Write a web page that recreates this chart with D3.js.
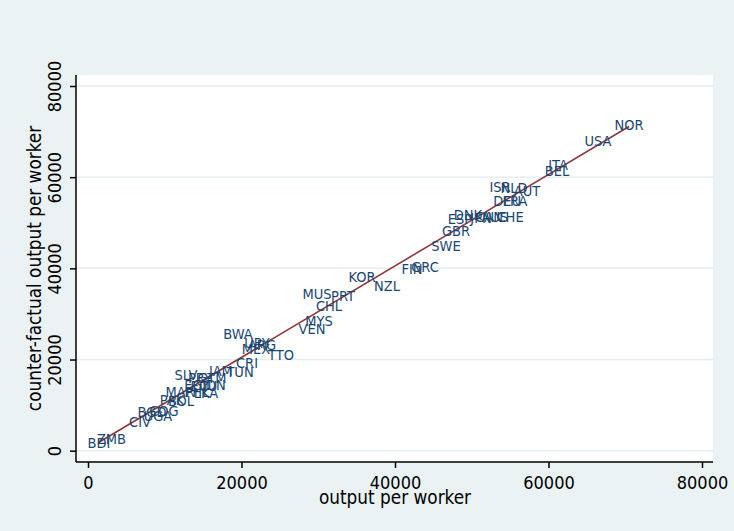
<!DOCTYPE html>
<html><head><meta charset="utf-8">
<script src="https://cdn.jsdelivr.net/npm/d3@7"></script>
<style>html,body{margin:0;padding:0;background:#eaf2f3;}svg{display:block;}
text{font-family:"DejaVu Sans Condensed","DejaVu Sans",sans-serif;font-stretch:condensed;}</style>
</head><body>
<script>
const countries = ["NOR","USA","ITA","BEL","ISR","NLD","AUT","DEU","FRA","DNK","ESP","JPN","CAN","AUS","CHE","GBR","SWE","GRC","FIN","NZL","KOR","PRT","MUS","CHL","MYS","VEN","BWA","URY","ARG","MEX","TTO","CRI","TUN","JAM","SLV","PRY","GTM","ECU","EGY","IDN","MAR","PHL","LKA","PAK","BOL","BGD","COG","UGA","CIV","ZMB","BDI"];
const outputPerWorker = [70490,66450,61240,61110,53680,55510,57200,54600,55640,49510,48470,51210,52250,53030,54990,47950,46650,43910,42220,38960,35700,33230,29840,31400,30100,29190,19550,22020,22670,21890,25150,20720,19810,17330,12770,14590,16160,15110,14200,16420,11990,14200,15380,10950,12120,8340,9900,9120,6780,3060,1430];
const counterFactual = [71430,67920,62650,61340,57830,57610,56950,54760,54760,51690,50810,51030,51250,51250,51250,48180,44890,40290,39850,36120,38090,33930,34360,31730,28440,26690,25590,23620,23180,22300,20990,19230,17260,17480,16600,15940,15940,14190,14410,14410,12870,12870,12650,11120,10900,8490,8710,7610,6290,2570,1690];
const fitX = [1430, 70490];
const fitY = [1840, 71120];
const xTicks = [0,20000,40000,60000,80000];
const yTicks = [0,20000,40000,60000,80000];

const W = 734, H = 531;
const svg = d3.select("body").append("svg").attr("width", W).attr("height", H);
svg.append("rect").attr("width", W).attr("height", H).attr("fill", "#eaf2f3");

const plot = {left: 76, right: 713, top: 75, bottom: 462};
const x = d3.scaleLinear().domain([0, 80000]).range([88, 702]);
const y = d3.scaleLinear().domain([0, 80000]).range([450.7, 86]);

svg.append("rect").attr("x", plot.left).attr("y", plot.top)
  .attr("width", plot.right - plot.left).attr("height", plot.bottom - plot.top).attr("fill", "#ffffff");

// gridlines
svg.append("g").selectAll("line").data(yTicks).join("line")
  .attr("x1", plot.left).attr("x2", plot.right)
  .attr("y1", d => y(d)).attr("y2", d => y(d))
  .attr("stroke", "#e4eef0").attr("stroke-width", 1.5);

// fit line
const line = d3.line().x(d => x(d[0])).y(d => y(d[1]));
svg.append("path").datum(fitX.map((v, i) => [v, fitY[i]]))
  .attr("d", line).attr("fill", "none").attr("stroke", "#90353b").attr("stroke-width", 1.6);

// labels
svg.append("g").selectAll("text").data(countries).join("text")
  .attr("x", (d, i) => x(outputPerWorker[i]))
  .attr("y", (d, i) => y(counterFactual[i]))
  .attr("text-anchor", "middle").attr("dominant-baseline", "central")
  .attr("font-size", 14.5)
  .attr("fill", "#1a476f").text(d => d);

// axes
const xAxis = d3.axisBottom(x).tickValues(xTicks).tickSize(6).tickFormat(d3.format("d"));
const gx = svg.append("g").attr("transform", `translate(0,${plot.bottom})`).call(xAxis);
gx.attr("font-family", null);
gx.select(".domain").attr("d", `M${plot.left},0H${plot.right}`).attr("stroke", "#000").attr("stroke-width", 1.5);
gx.selectAll(".tick line").attr("stroke", "#000").attr("stroke-width", 1.5);
gx.selectAll(".tick text").attr("font-size", 18)
  .attr("fill", "#000").attr("y", 20).attr("dy", null).attr("dominant-baseline", "central");

const yAxis = d3.axisLeft(y).tickValues(yTicks).tickSize(6).tickFormat(d3.format("d"));
const gy = svg.append("g").attr("transform", `translate(${plot.left},0)`).call(yAxis);
gy.attr("font-family", null);
gy.select(".domain").attr("d", `M0,${plot.top}V${plot.bottom}`).attr("stroke", "#000").attr("stroke-width", 1.5);
gy.selectAll(".tick line").attr("stroke", "#000").attr("stroke-width", 1.5);
gy.selectAll(".tick text").attr("font-size", 18)
  .attr("fill", "#000").attr("x", null).attr("dy", null)
  .attr("text-anchor", "middle").attr("dominant-baseline", "central")
  .attr("transform", "translate(-22,0) rotate(-90)");

// titles
svg.append("text").attr("x", x(40000)).attr("y", 497)
  .attr("text-anchor", "middle").attr("dominant-baseline", "central")
  .attr("font-size", 18.8).attr("fill", "#000")
  .text("output per worker");
svg.append("text").attr("transform", `translate(34,${(plot.top + plot.bottom) / 2}) rotate(-90)`)
  .attr("text-anchor", "middle").attr("dominant-baseline", "central")
  .attr("font-size", 18.8).attr("fill", "#000")
  .text("counter-factual output per worker");
</script>
</body></html>
